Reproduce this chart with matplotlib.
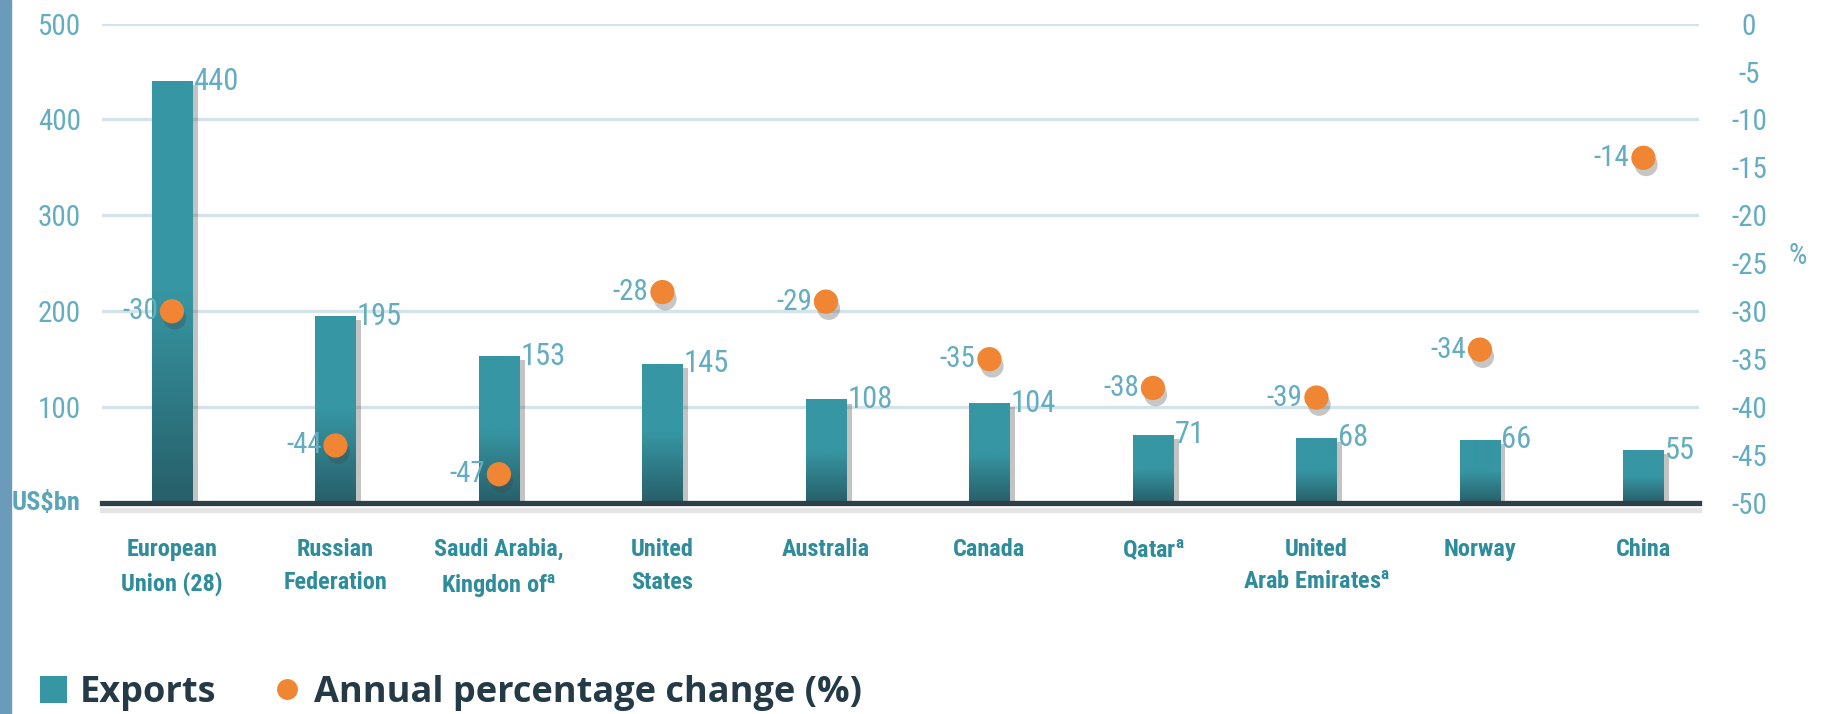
import numpy as np
import matplotlib
matplotlib.use("Agg")
import matplotlib.pyplot as plt
import matplotlib.patheffects as pe
from matplotlib.colors import LinearSegmentedColormap
from matplotlib.patches import Patch, Rectangle
from matplotlib.lines import Line2D

countries = [
    "European\nUnion (28)",
    "Russian\nFederation",
    "Saudi Arabia,\nKingdon of$^{\\mathbf{a}}$",
    "United\nStates",
    "Australia",
    "Canada",
    "Qatar$^{\\mathbf{a}}$",
    "United\nArab Emirates$^{\\mathbf{a}}$",
    "Norway",
    "China",
]
exports = [440, 195, 153, 145, 108, 104, 71, 68, 66, 55]
pct_change = [-30, -44, -47, -28, -29, -35, -38, -39, -34, -14]
left_ticks = [100, 200, 300, 400, 500]
right_ticks = [0, -5, -10, -15, -20, -25, -30, -35, -40, -45, -50]

TEAL = "#3796a3"
TEAL_DARK = "#275f69"
ORANGE = "#f08533"
TICK_COL = "#64adc0"
CAT_COL = "#2f8c9b"
GRID_COL = "#d4e3e8"
BASE_COL = "#2e3f48"
LEG_COL = "#243a47"

plt.rcParams["font.family"] = ["Roboto Condensed", "DejaVu Sans"]
plt.rcParams["mathtext.fontset"] = "custom"
plt.rcParams["mathtext.bf"] = "Roboto Condensed:bold"
plt.rcParams["mathtext.rm"] = "Roboto Condensed"

fig = plt.figure(figsize=(18.21, 7.14), dpi=100)
fig.patches.append(Rectangle((0, 0), 11 / 1821, 1, transform=fig.transFigure,
                             color="#6a9cba", zorder=0))
ax = fig.add_axes([0.056, 0.2955, 0.877, 0.6715])
ax2 = ax.twinx()

x = np.arange(len(countries))
width = 0.245

# bars, darker towards the base
cmap = LinearSegmentedColormap.from_list("tealgrad", [TEAL_DARK, TEAL, TEAL])
grad = np.linspace(0, 1, 256).reshape(-1, 1)
bars = ax.bar(x, exports, width, color=TEAL, zorder=2,
              path_effects=[pe.SimplePatchShadow(offset=(4, -3), shadow_rgbFace="#555555", alpha=0.35),
                            pe.Normal()])
for b, v in zip(bars, exports):
    x0 = b.get_x()
    im = ax.imshow(grad, extent=[x0, x0 + width, 0, v], origin="lower",
                   aspect="auto", cmap=cmap, zorder=3, interpolation="bilinear")
    im.set_clip_path(b)
    ax.text(x0 + width + 0.008, v, str(v), ha="left", va="center",
            fontsize=22, color=TICK_COL, zorder=4)

ax.set_xlim(-0.428, 9.34)
ax.set_ylim(0, 500)
ax.set_yticks(left_ticks)
ax.set_yticklabels([str(t) for t in left_ticks])
ax.yaxis.grid(True, color=GRID_COL, linewidth=2.4)
ax.set_axisbelow(True)
ax.tick_params(axis="y", length=0, pad=15, labelsize=21, labelcolor=TICK_COL)
ax.set_xticks(x)
ax.set_xticklabels(countries, fontsize=17.5, fontweight="bold", color=CAT_COL,
                   linespacing=1.55)
ax.tick_params(axis="x", length=0, pad=25)
for s in ax.spines.values():
    s.set_visible(False)
ax.axhline(0, color=BASE_COL, linewidth=3.8, zorder=5, clip_on=False,
           path_effects=[pe.SimpleLineShadow(offset=(0, -5), shadow_color="#999999", alpha=0.25),
                         pe.Normal()])

# annual percentage change
ax2.scatter(x, pct_change, s=270, color=ORANGE, zorder=6,
            path_effects=[pe.SimplePatchShadow(offset=(2, -5), shadow_rgbFace="#444444", alpha=0.3),
                          pe.Normal()])
for xi, v in zip(x, pct_change):
    ax2.text(xi - 0.085, v, str(v), ha="right", va="center", fontsize=21,
             color=TICK_COL, zorder=6)
ax2.set_ylim(-50, 0)
ax2.set_yticks(right_ticks)
ax2.set_yticklabels([str(t) for t in right_ticks])
ax2.tick_params(axis="y", length=0, pad=36, labelsize=21, labelcolor=TICK_COL)
for lab in ax2.get_yticklabels():
    lab.set_horizontalalignment("center")
for s in ax2.spines.values():
    s.set_visible(False)

fig.text(1798 / 1821, 1 - 256 / 714, "%", fontsize=21, color=TICK_COL,
         ha="center", va="center")
fig.text(12 / 1821, 1 - 503 / 714, "US$bn", fontsize=19, fontweight="bold",
         color="#5aa6b8", ha="left", va="center")

handles = [Patch(facecolor=TEAL, edgecolor="none"),
           Line2D([], [], marker="o", linestyle="", color=ORANGE, markersize=14)]
fig.legend(handles, ["Exports", "Annual percentage change (%)"],
           loc="center left", bbox_to_anchor=(0.012, 1 - 693 / 714), ncol=2, frameon=False,
           prop={"family": ["Open Sans", "DejaVu Sans"], "weight": "bold", "size": 26},
           labelcolor=LEG_COL, handlelength=0.75, handleheight=0.75,
           handletextpad=0.35, columnspacing=1.6, borderpad=0.0)

fig.savefig("out.png", dpi=100, facecolor="white")
